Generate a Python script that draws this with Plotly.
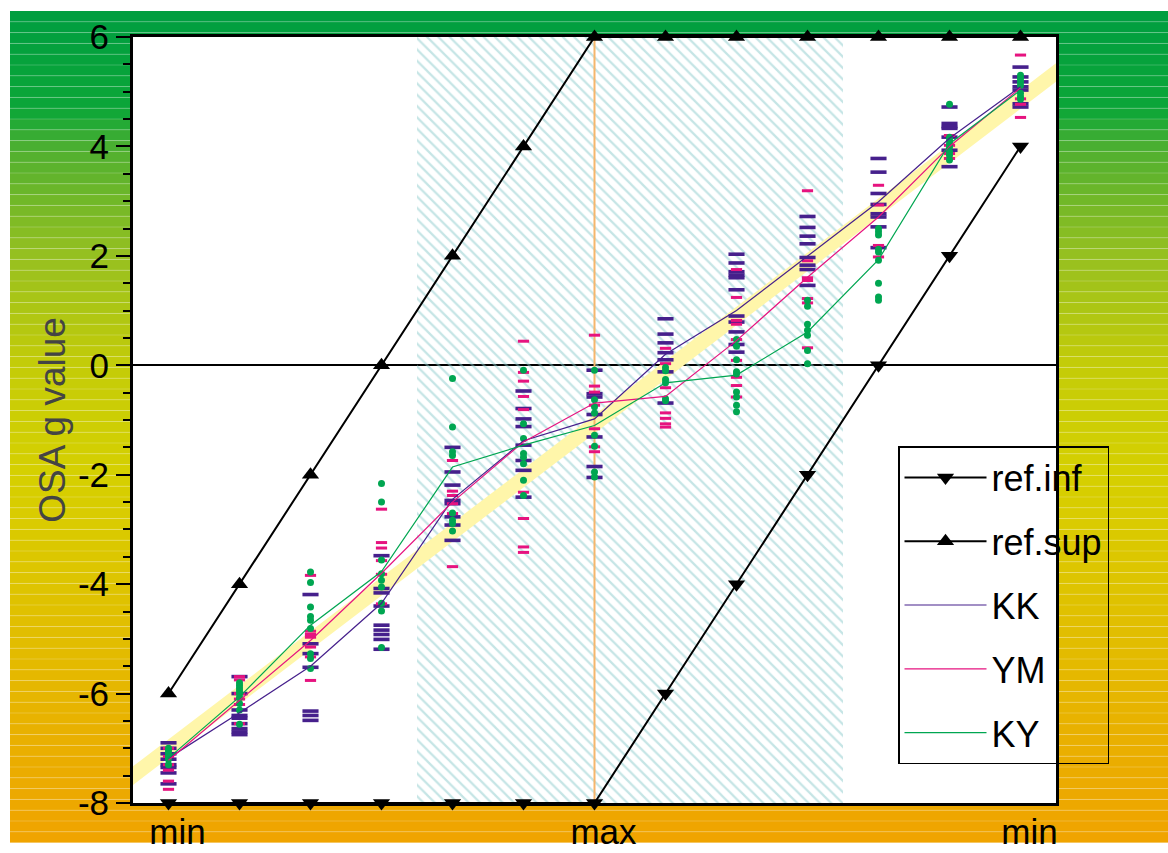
import plotly.graph_objects as go

# ---------------- data ----------------
X_LEVELS = [0, 1, 2, 3, 4, 5, 6, 7, 8, 9, 10, 11, 12]
TICK_POS = [0, 6, 12]
TICK_TEXT = ["min", "max", "min"]
Y_TICKS = [-8, -6, -4, -2, 0, 2, 4, 6]
Y_TICK_TEXT = ["-8", "-6", "-4", "-2", "0", "2", "4", "6"]

REF_INF = [-8, -8, -8, -8, -8, -8, -8, -6, -4, -2, 0, 2, 4]
REF_SUP = [-6, -4, -2, 0, 2, 4, 6, 6, 6, 6, 6, 6, 6]

KK_MEAN = [-7.18, -6.35, -5.5, -4.35, -2.45, -1.38, -0.98, 0.2, 1.0, 2.0, 2.99, 4.15, 5.09]
YM_MEAN = [-7.22, -6.12, -5.03, -3.8, -2.5, -1.4, -0.69, -0.57, 0.45, 1.61, 2.71, 4.0, 5.07]
KY_MEAN = [-7.18, -6.06, -4.75, -3.77, -1.86, -1.46, -1.1, -0.32, -0.18, 0.61, 1.93, 4.05, 5.03]

KK_PTS = [
    [-6.9, -7.0, -7.1, -7.2, -7.3, -7.35, -7.45, -7.65],
    [-5.69, -6.0, -6.3, -6.4, -6.45, -6.55, -6.64, -6.7, -6.75],
    [-4.19, -5.09, -5.27, -5.52, -6.32, -6.4, -6.49],
    [-3.48, -4.08, -4.16, -4.4, -4.75, -4.84, -4.92, -5.01, -5.19],
    [-1.5, -1.95, -2.19, -2.47, -2.53, -2.77, -2.92, -3.2],
    [-0.47, -0.79, -0.98, -1.12, -1.46, -1.74, -1.92, -2.41],
    [-0.09, -0.52, -0.58, -0.9, -1.31, -1.85, -2.05],
    [0.85, 0.57, 0.41, 0.23, 0.1, -0.12, -0.69],
    [2.03, 1.87, 1.71, 1.65, 1.6, 1.38, 0.9, 0.79, 0.61, 0.38, 0.24],
    [2.72, 2.52, 2.36, 2.22, 1.97, 1.83, 1.75, 1.46],
    [3.78, 3.53, 3.14, 2.94, 2.77, 2.71, 2.53, 2.15],
    [4.72, 4.42, 4.36, 4.33, 4.17, 3.93, 3.63],
    [5.45, 5.27, 5.18, 5.09, 5.03, 4.78, 4.72],
]
YM_PTS = [
    [-7.0, -7.15, -7.3, -7.4, -7.6, -7.75],
    [-5.69, -5.75, -6.0, -6.1, -6.2, -6.55],
    [-3.84, -4.86, -4.92, -4.97, -5.15, -5.33, -5.76],
    [-2.63, -3.24, -3.34, -3.57, -3.82, -4.36],
    [-1.74, -2.3, -2.38, -2.53, -2.71, -3.68],
    [0.44, -0.13, -0.29, -0.57, -0.81, -2.32, -2.8, -3.32, -3.42],
    [0.55, -0.38, -0.49, -0.73, -1.16, -1.49, -1.58],
    [0.31, 0.03, -0.41, -0.87, -0.97, -1.07, -1.13],
    [1.75, 1.24, 0.82, 0.75, 0.47, 0.09, -0.22, -0.37, -0.58],
    [3.19, 1.91, 1.6, 1.55, 1.22, 1.14, 0.32],
    [3.29, 2.93, 2.19, 1.98],
    [4.2, 4.02, 3.87, 3.78],
    [5.67, 4.87, 4.77, 4.53],
]
KY_PTS = [
    [-7.0, -7.05, -7.1, -7.15, -7.2, -7.3],
    [-5.8, -5.85, -5.9, -5.95, -6.0, -6.07, -6.18, -6.3, -6.56],
    [-3.78, -3.97, -4.42, -4.59, -4.66, -4.81, -5.27, -5.36, -5.54],
    [-2.16, -2.5, -3.56, -3.81, -3.93, -4.05, -4.35, -4.49, -5.16],
    [-0.24, -1.13, -1.58, -1.65, -2.7, -2.83, -2.89, -3.03],
    [-0.09, -1.07, -1.34, -1.61, -1.68, -1.8, -2.1, -2.38],
    [-0.09, -0.63, -0.76, -0.87, -1.28, -1.48, -1.95, -2.04],
    [-0.04, -0.1, -0.26, -0.32, -0.61, -0.65],
    [0.47, 0.35, 0.1, -0.12, -0.16, -0.49, -0.58, -0.73, -0.85],
    [1.19, 1.08, 0.75, 0.64, 0.55, 0.27, 0.03],
    [2.5, 2.44, 2.38, 2.12, 2.07, 1.92, 1.5, 1.25, 1.19],
    [4.77, 4.17, 4.11, 4.05, 3.99, 3.9, 3.84, 3.75],
    [5.3, 5.24, 5.18, 5.12, 4.97, 4.91, 4.86],
]

# reference band (diagonal) and shaded zone
BAND_X = [-0.5, 12.5]
BAND_CENTER = [-7.5, 5.35]
BAND_HALF = 0.17
SHADE_FROM, SHADE_TO = 3.5, 9.5
MAX_LEVEL = 6
X_RANGE = [-0.5, 12.5]
Y_RANGE = [-8, 6]

# ---------------- style ----------------
FONT = "Liberation Sans, Arial, sans-serif"
C_KK = "#46208C"
C_YM = "#E6137F"
C_KY = "#00A651"
W, H = 1168, 853
ML, MR, MT, MB = 133, 112, 37, 50
PW, PH = W - ML - MR, H - MT - MB


def px_x(px):
    return (px - ML) / PW


def px_y(py):
    return (H - MB - py) / PH


# gradient background (pixel y, rgb)
GRAD = [
    (11, (0, 158, 64)), (110, (12, 166, 56)), (150, (80, 176, 48)),
    (255, (150, 192, 32)), (365, (196, 204, 8)), (475, (214, 208, 0)),
    (585, (222, 196, 0)), (694, (230, 182, 0)), (803, (237, 168, 0)),
    (843, (240, 163, 0)),
]


def grad_color(py):
    for (y0, c0), (y1, c1) in zip(GRAD[:-1], GRAD[1:]):
        if y0 <= py <= y1:
            t = (py - y0) / (y1 - y0)
            return "rgb(%d,%d,%d)" % tuple(round(a + (b - a) * t) for a, b in zip(c0, c1))
    return "rgb(%d,%d,%d)" % GRAD[-1][1]


shapes = []
top, bottom, step = 11, 843, 10.8
y = top
while y < bottom:
    y2 = min(y + step, bottom)
    shapes.append(dict(type="rect", xref="paper", yref="paper", layer="below",
                       x0=px_x(10), x1=px_x(W), y0=px_y(y2), y1=px_y(y),
                       fillcolor=grad_color((y + y2) / 2), line=dict(width=0)))
    y = y2
y = top + step
while y < bottom:
    shapes.append(dict(type="line", xref="paper", yref="paper", layer="below",
                       x0=px_x(10), x1=px_x(W), y0=px_y(y), y1=px_y(y),
                       line=dict(color="rgba(255,255,255,0.2)", width=1)))
    y += step
# white plotting area
shapes.append(dict(type="rect", xref="paper", yref="paper", layer="below",
                   x0=0, x1=1, y0=0, y1=1, fillcolor="white", line=dict(width=0)))

fig = go.Figure()

# hatched zone
fig.add_trace(go.Scatter(
    x=[SHADE_FROM, SHADE_TO, SHADE_TO, SHADE_FROM, SHADE_FROM],
    y=[Y_RANGE[0], Y_RANGE[0], Y_RANGE[1], Y_RANGE[1], Y_RANGE[0]],
    mode="lines", fill="toself", fillcolor="rgba(0,0,0,0)",
    fillpattern=dict(shape="\\", fgcolor="#8CCBCC", bgcolor="rgba(0,0,0,0)",
                     size=8, solidity=0.28),
    line=dict(width=0), showlegend=False, hoverinfo="skip"))

# yellow band
fig.add_trace(go.Scatter(
    x=[BAND_X[0], BAND_X[1], BAND_X[1], BAND_X[0], BAND_X[0]],
    y=[BAND_CENTER[0] - BAND_HALF, BAND_CENTER[1] - BAND_HALF,
       BAND_CENTER[1] + BAND_HALF, BAND_CENTER[0] + BAND_HALF,
       BAND_CENTER[0] - BAND_HALF],
    mode="lines", fill="toself", fillcolor="#FFF6AA", line=dict(width=0),
    showlegend=False, hoverinfo="skip"))

# orange vertical line at "max"
fig.add_trace(go.Scatter(x=[MAX_LEVEL, MAX_LEVEL], y=Y_RANGE, mode="lines",
                         line=dict(color="#F6B66C", width=2),
                         showlegend=False, hoverinfo="skip"))


def flat(pts):
    xs, ys = [], []
    for xv, col in zip(X_LEVELS, pts):
        xs += [xv] * len(col)
        ys += col
    return xs, ys


# individual values
for pts, col, sym, size, lw in [
    (KK_PTS, C_KK, "line-ew", 11.5, 3.6),
    (YM_PTS, C_YM, "line-ew", 8, 3),
]:
    xs, ys = flat(pts)
    fig.add_trace(go.Scatter(x=xs, y=ys, mode="markers", showlegend=False,
                             marker=dict(symbol=sym, size=size,
                                         line=dict(color=col, width=lw))))
xs, ys = flat(KY_PTS)
fig.add_trace(go.Scatter(x=xs, y=ys, mode="markers", showlegend=False,
                         marker=dict(symbol="circle", size=7, color=C_KY)))

# reference lines
fig.add_trace(go.Scatter(x=X_LEVELS, y=REF_INF, name="ref.inf", legendgroup="a",
                         mode="lines+markers", cliponaxis=False,
                         line=dict(color="black", width=2),
                         marker=dict(symbol="triangle-down", size=15, color="black")))
fig.add_trace(go.Scatter(x=X_LEVELS, y=REF_SUP, name="ref.sup", legendgroup="b",
                         mode="lines+markers", cliponaxis=False,
                         line=dict(color="black", width=2),
                         marker=dict(symbol="triangle-up", size=15, color="black")))

# mean lines
for name, vals, col, g in [("KK", KK_MEAN, C_KK, "c"), ("YM", YM_MEAN, C_YM, "d"),
                           ("KY", KY_MEAN, C_KY, "e")]:
    fig.add_trace(go.Scatter(x=X_LEVELS, y=vals, name=name, legendgroup=g,
                             mode="lines", line=dict(color=col, width=1.2)))

fig.update_layout(
    width=W, height=H,
    margin=dict(l=ML, r=MR, t=MT, b=MB, autoexpand=False),
    paper_bgcolor="white", plot_bgcolor="white",
    font=dict(family=FONT, color="black"),
    shapes=shapes,
    legend=dict(x=px_x(898), y=px_y(446), xanchor="left", yanchor="top",
                font=dict(size=36, family=FONT, color="black"),
                bgcolor="rgba(0,0,0,0)", bordercolor="black", borderwidth=1.5,
                itemwidth=82, tracegroupgap=14, traceorder="grouped"),
    xaxis=dict(range=X_RANGE, tickvals=TICK_POS, ticktext=TICK_TEXT,
               showgrid=False, zeroline=False, showline=True, linewidth=3,
               linecolor="black", mirror=True, ticks="",
               ticklabelshift=9, ticklabelstandoff=-4,
               tickfont=dict(size=35), automargin=False),
    yaxis=dict(range=Y_RANGE, tickvals=Y_TICKS, ticktext=Y_TICK_TEXT, showgrid=False,
               zeroline=True, zerolinecolor="black", zerolinewidth=2,
               showline=True, linewidth=3, linecolor="black", mirror=True,
               ticks="outside", ticklen=14, tickwidth=1.5, tickcolor="black",
               minor=dict(dtick=0.5, ticks="outside", ticklen=7, tickwidth=1.5,
                          tickcolor="black"),
               tickfont=dict(size=35), automargin=False,
               title=dict(text="OSA g value", font=dict(size=37, color="#444444"),
                          standoff=1)),
)

fig.write_html("out.html", config={"displayModeBar": False},
               post_script="document.body.style.margin='0';")
